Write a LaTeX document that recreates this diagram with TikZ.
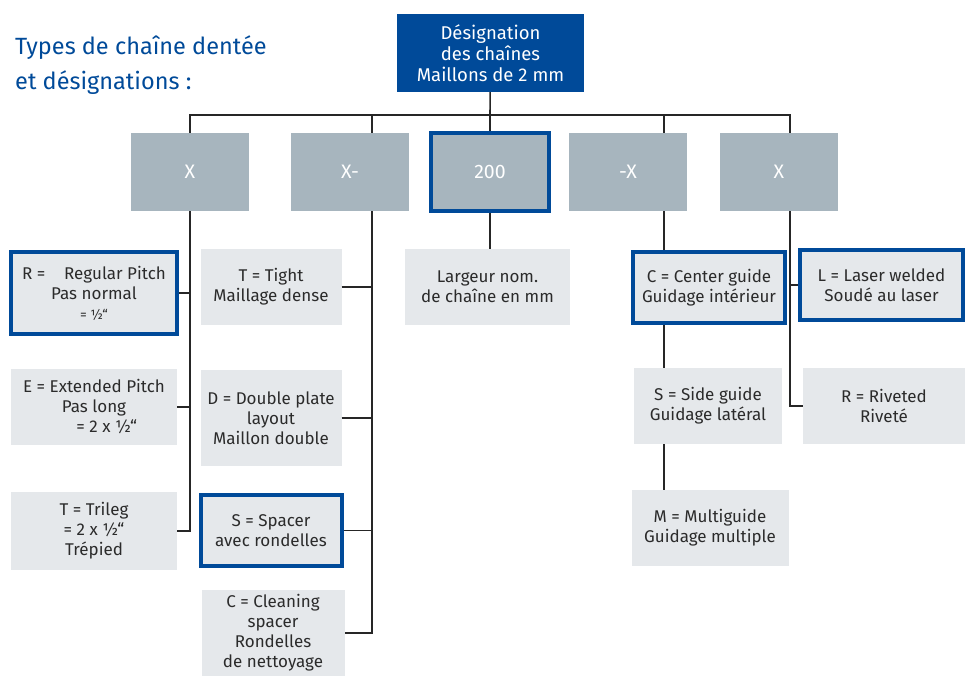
\documentclass[tikz,border=0pt]{standalone}
\usepackage{fontspec}
\setmainfont{Fira Sans}
\definecolor{chainblue}{HTML}{004A99}
\definecolor{slate}{HTML}{A7B5BE}
\definecolor{mist}{HTML}{E5E8EB}
\definecolor{ink}{HTML}{2B2B2B}

\begin{document}
\begin{tikzpicture}[x=1pt,y=-1pt,
    wire/.style={draw=black!85,line width=1.6pt},
    head/.style={fill=chainblue,text=white,align=center,inner sep=0pt,
                 minimum width=187pt,minimum height=78pt,
                 font=\fontsize{18.5}{21}\selectfont},
    level/.style={fill=slate,text=white,inner sep=0pt,
                  minimum width=118pt,minimum height=78pt,
                  font=\fontsize{19.5}{20}\selectfont},
    leaf/.style={fill=mist,text=ink,align=center,inner sep=0pt,
                 font=\fontsize{17}{20}\selectfont},
    picked/.style={draw=chainblue,line width=4pt}]

  \useasboundingbox (0,0) rectangle (965,676);

  \node[text=chainblue,align=left,anchor=west,inner sep=0pt,
        font=\fontsize{23.5}{35}\selectfont] (title) at (15,65)
        {Types de chaîne dentée\\et désignations :};

  \node[head] (top) at (490.5,53) {Désignation\\des chaînes\\Maillons de 2 mm};

  \node[level] (xa) at (190,172) {X};
  \node[level] (xb) at (350,172) {X-};
  \node[level,picked] (w) at (490,172) {200};
  \node[level] (xc) at (628,172) {-X};
  \node[level] (xd) at (779,172) {X};

  % pitch
  \node[leaf,picked,minimum width=166pt,minimum height=82pt] (r) at (94,293)
        {R =\hspace{1.1em}Regular Pitch\\Pas normal\\{\fontsize{13.5}{14}\selectfont = ½“}};
  \node[leaf,minimum width=166pt,minimum height=76pt] (e) at (94,407)
        {E = Extended Pitch\\Pas long\\\hspace{1.5em}= 2 x ½“};
  \node[leaf,minimum width=166pt,minimum height=78pt] (t) at (94,531)
        {T = Trileg\\= 2 x ½“\\Trépied};

  % layout
  \node[leaf,minimum width=141pt,minimum height=76pt] (tight) at (271,287)
        {T = Tight\\Maillage dense};
  \node[leaf,minimum width=141pt,minimum height=96pt] (dp) at (271,418)
        {D = Double plate\\layout\\Maillon double};
  \node[leaf,picked,minimum width=141pt,minimum height=71pt] (sp) at (271,530.5)
        {S = Spacer\\avec rondelles};
  \node[leaf,minimum width=143pt,minimum height=86pt] (cl) at (273,633)
        {C = Cleaning\\spacer\\Rondelles\\de nettoyage};

  % width
  \node[leaf,minimum width=165pt,minimum height=76pt] (lg) at (487.5,287)
        {Largeur nom.\\de chaîne en mm};

  % guide
  \node[leaf,picked,minimum width=152pt,minimum height=71pt] (cg) at (709,287.5)
        {C = Center guide\\Guidage intérieur};
  \node[leaf,minimum width=148pt,minimum height=76pt] (sg) at (708,406)
        {S = Side guide\\Guidage latéral};
  \node[leaf,minimum width=157pt,minimum height=76pt] (mg) at (710,528)
        {M = Multiguide\\Guidage multiple};

  % joint
  \node[leaf,picked,minimum width=163pt,minimum height=70pt] (lw) at (881.5,285)
        {L = Laser welded\\Soudé au laser};
  \node[leaf,minimum width=162pt,minimum height=76pt] (rv) at (884,406)
        {R = Riveted\\Riveté};

  \coordinate (bus) at (490,115);
  \coordinate (k2) at ([xshift=22pt]xb.south);
  \coordinate (k4) at ([xshift=36pt]xc.south);
  \coordinate (k5) at ([xshift=11pt]xd.south);

  \draw[wire] (top) -- (bus);
  \draw[wire] (xa.north) |- (bus) -| (k5 |- xd.north);
  \draw[wire] (k2 |- xb.north) -- (k2 |- bus);
  \draw[wire] (w.north) -- (bus);
  \draw[wire] (k4 |- xc.north) -- (k4 |- bus);

  \draw[wire] (xa.south) |- (t.east);
  \draw[wire] (r.east) -- (r.east -| xa.south);
  \draw[wire] (e.east) -- (e.east -| xa.south);

  \draw[wire] (k2) |- (cl.east);
  \draw[wire] (tight.east) -- (tight.east -| k2);
  \draw[wire] (dp.east) -- (dp.east -| k2);
  \draw[wire] (sp.east) -- (sp.east -| k2);

  \draw[wire] (w.south) -- (lg.north -| w.south);

  \draw[wire] (k4) -- (k4 |- cg.north);
  \draw[wire] (k4 |- cg.south) -- (k4 |- sg.north);
  \draw[wire] (k4 |- sg.south) -- (k4 |- mg.north);

  \draw[wire] (k5) |- (rv.west);
  \draw[wire] (lw.west) -- (lw.west -| k5);
\end{tikzpicture}
\end{document}
